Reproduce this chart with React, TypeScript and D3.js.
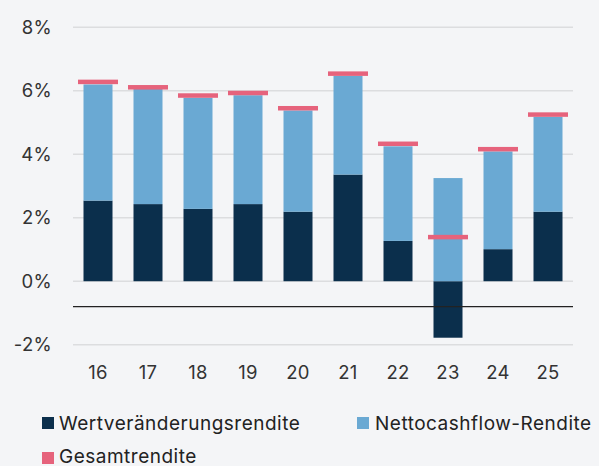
import React from "react";
import * as d3 from "d3";

const years = ["16", "17", "18", "19", "20", "21", "22", "23", "24", "25"];
const wertRendite = [2.54, 2.43, 2.28, 2.43, 2.19, 3.36, 1.27, -1.78, 1.01, 2.19];
const nettoRendite = [3.66, 3.63, 3.5, 3.43, 3.19, 3.11, 2.98, 3.25, 3.08, 2.99];
const gesamtRendite = [6.28, 6.11, 5.85, 5.93, 5.45, 6.54, 4.33, 1.39, 4.16, 5.25];
const yTicks = [-2, 0, 2, 4, 6, 8];
const baselineValue = -0.8;

const W = 599;
const H = 466;
const FONT = "Inter, 'Noto Sans', sans-serif";
const C_DARK = "#0b2f4c";
const C_LIGHT = "#6aa9d3";
const C_PINK = "#e6637c";

export default function App() {
  const x = d3.scaleBand<string>().domain(years).range([73, 573]).paddingInner(0.42).paddingOuter(0.21);
  const y = d3.scaleLinear().domain([-2, 8]).range([344.7, 27.3]);
  const bw = x.bandwidth();
  const markerW = 40;
  const markerH = 4.5;

  return (
    <svg width={W} height={H} style={{ position: "absolute", left: 0, top: 0, background: "#f4f5f7" }} fontFamily={FONT}>
      <rect x={0} y={0} width={W} height={H} fill="#f4f5f7" />
      {yTicks.map((t) => (
        <g key={t}>
          <line x1={73} x2={573} y1={y(t)} y2={y(t)} stroke="#dcdddf" strokeWidth={1.5} />
          <text x={52} y={y(t)} dy="0.36em" textAnchor="end" fontSize={18.5} letterSpacing={0.3} fill="#333">
            {t}%
          </text>
        </g>
      ))}
      {years.map((yr, i) => {
        const w = wertRendite[i];
        const n = nettoRendite[i];
        const x0 = x(yr)!;
        const wTop = w >= 0 ? y(w) : y(0);
        const wBot = w >= 0 ? y(0) : y(w);
        const nBase = w >= 0 ? w : 0;
        return (
          <g key={yr}>
            <rect x={x0} y={wTop} width={bw} height={wBot - wTop} fill={C_DARK} />
            <rect x={x0} y={y(nBase + n)} width={bw} height={y(nBase) - y(nBase + n)} fill={C_LIGHT} />
          </g>
        );
      })}
      <line x1={73} x2={573} y1={y(baselineValue)} y2={y(baselineValue)} stroke="#222" strokeWidth={1.3} />
      {years.map((yr, i) => (
        <rect
          key={"g" + yr}
          x={x(yr)! + bw / 2 - markerW / 2}
          y={y(gesamtRendite[i]) - markerH / 2}
          width={markerW}
          height={markerH}
          fill={C_PINK}
        />
      ))}
      {years.map((yr) => (
        <text key={"l" + yr} x={x(yr)! + bw / 2} y={379} textAnchor="middle" fontSize={18.5} letterSpacing={0.3} fill="#333">
          {yr}
        </text>
      ))}
      <g fontSize={19} letterSpacing={0.5} fill="#222">
        <rect x={42} y={417} width={12} height={12} fill={C_DARK} />
        <text x={59} y={429.5}>Wertveränderungsrendite</text>
        <rect x={357} y={417} width={12} height={12} fill={C_LIGHT} />
        <text x={375} y={429.5}>Nettocashflow-Rendite</text>
        <rect x={42} y={452} width={12} height={12} fill={C_PINK} />
        <text x={59} y={462.5}>Gesamtrendite</text>
      </g>
    </svg>
  );
}
